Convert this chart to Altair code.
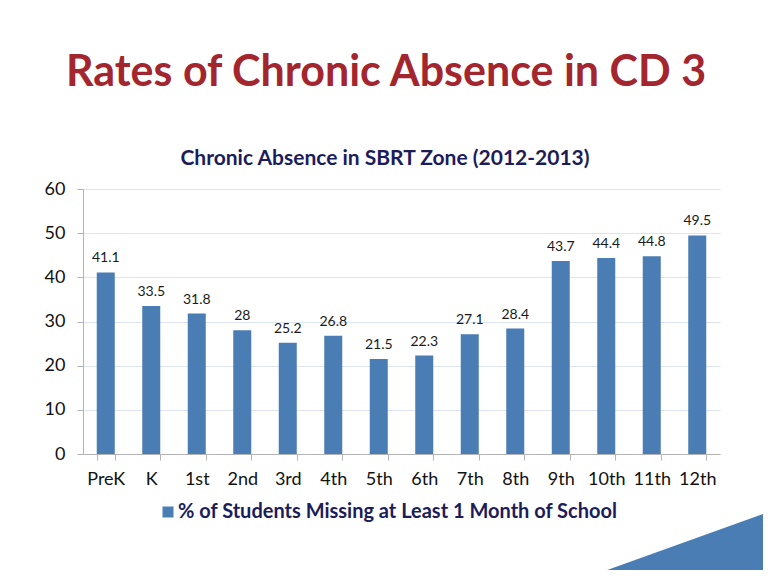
import altair as alt
import pandas as pd

grades = ["PreK", "K", "1st", "2nd", "3rd", "4th", "5th", "6th", "7th", "8th", "9th", "10th", "11th", "12th"]
values = [41.1, 33.5, 31.8, 28, 25.2, 26.8, 21.5, 22.3, 27.1, 28.4, 43.7, 44.4, 44.8, 49.5]
series_name = "% of Students Missing at Least 1 Month of School"
main_title = "Rates of Chronic Absence in CD 3"
sub_title = "Chronic Absence in SBRT Zone (2012-2013)"
y_ticks = [0, 10, 20, 30, 40, 50, 60]

BLUE = "#4A7DB3"
RED = "#A3262F"
NAVY = "#1C1C5A"
FONT = "Lato"

df = pd.DataFrame({"grade": grades, "value": values, "series": [series_name] * len(grades)})
df["label"] = [("%g" % v) for v in values]

x_enc = alt.X("grade:N", sort=grades,
              scale=alt.Scale(paddingInner=0.6, paddingOuter=0.3),
              axis=alt.Axis(title=None, labelAngle=0, tickBand="extent", tickSize=6,
                            domainColor="#B3B3B3", tickColor="#B3B3B3", labelFont=FONT,
                            labelFontSize=18, labelColor="#111111", labelPadding=10, grid=False))
y_enc = alt.Y("value:Q", scale=alt.Scale(domain=[0, 60], nice=False),
              axis=alt.Axis(title=None, values=y_ticks, grid=True, gridColor="#DDE4EE",
                            domainColor="#B3B3B3", tickColor="#B3B3B3", tickSize=6,
                            labelFont=FONT, labelFontSize=18, labelColor="#111111",
                            labelPadding=12))

bars = alt.Chart(df).mark_bar(size=18).encode(
    x=x_enc, y=y_enc,
    color=alt.Color("series:N", scale=alt.Scale(range=[BLUE]),
                    legend=alt.Legend(title=None, orient="none", legendX=75, legendY=313,
                                      symbolType="square", symbolSize=121, symbolStrokeWidth=0,
                                      labelFont=FONT, labelFontSize=20, labelFontWeight="bold",
                                      labelColor=NAVY, labelLimit=1000, labelOffset=0, padding=0))
)

labels = alt.Chart(df).mark_text(baseline="bottom", dy=-7, font=FONT, fontSize=14, color="#1A1A1A").encode(
    x=alt.X("grade:N", sort=grades), y="value:Q", text="label:N"
)

title_df = pd.DataFrame({"t": [main_title]})
sub_df = pd.DataFrame({"t": [sub_title]})

title_mark = alt.Chart(title_df).mark_text(font=FONT, fontSize=43, fontWeight="bold", color=RED,
                                           align="center", baseline="alphabetic").encode(
    text="t:N", x=alt.value(303), y=alt.value(-103))
sub_mark = alt.Chart(sub_df).mark_text(font=FONT, fontSize=21, fontWeight="bold", color=NAVY,
                                       align="center", baseline="alphabetic").encode(
    text="t:N", x=alt.value(302), y=alt.value(-24))

tri_df = pd.DataFrame({"t": [0]})
triangle = alt.Chart(tri_df).mark_point(shape="M -1 1 L 1 0.28 L 1 1 Z", filled=True, size=34596,
                                        color=BLUE, opacity=1, strokeWidth=0).encode(
    x=alt.value(595), y=alt.value(296))

chart = alt.layer(bars, labels, title_mark, sub_mark, triangle).properties(
    width=637, height=265,
    autosize=alt.AutoSizeParams(type="none"),
    padding={"left": 75, "top": 181, "right": 43, "bottom": 116},
    background="white",
).configure_view(stroke=None)

chart.save("out.html", embed_options={"renderer": "svg", "actions": False})
